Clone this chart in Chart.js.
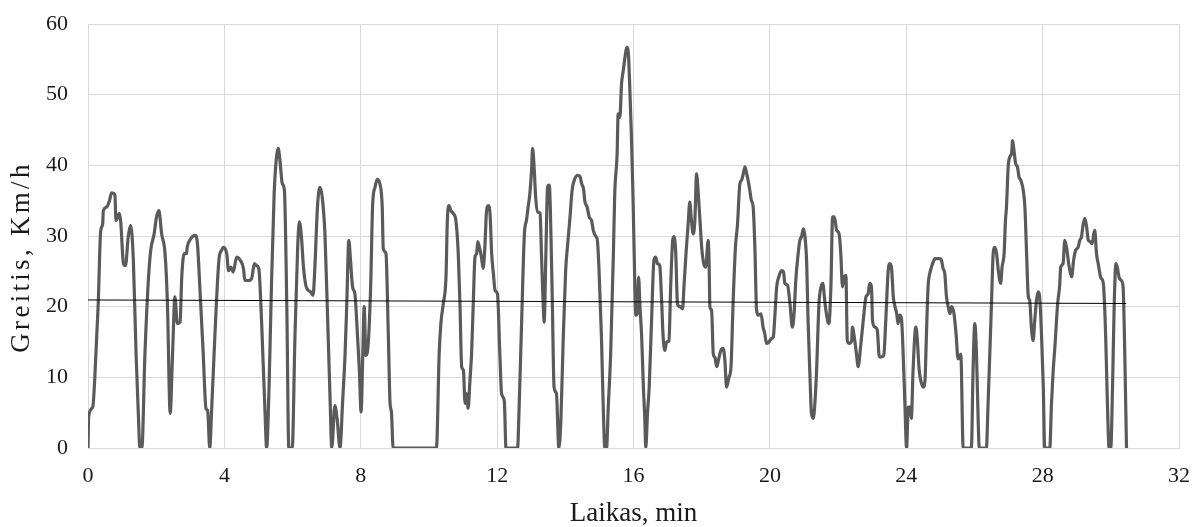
<!DOCTYPE html>
<html lang="lt">
<head>
  <meta charset="UTF-8">
  <title>Greitis laike</title>
  <script src="https://cdn.jsdelivr.net/npm/chart.js"></script>
  <style>
    body {
      margin: 0;
      background: #fff;
    }
    canvas {
      display: block;
    }
  </style>
</head>
<body>

  <canvas id="chart" width="1194" height="527"></canvas>

  <script>
    // laikas, min
    const timeMin = [
      0.00, 0.02, 0.14, 0.20, 0.30, 0.37, 0.43, 0.45, 0.55, 0.63, 0.69, 0.79, 0.82, 0.92, 0.96,
      1.04, 1.10, 1.18, 1.25, 1.33, 1.41, 1.48, 1.52, 1.58, 1.67, 1.77, 1.84, 1.94, 2.01, 2.08,
      2.16, 2.26, 2.33, 2.41, 2.48, 2.55, 2.62, 2.70, 2.75, 2.82, 2.89, 2.91, 3.01, 3.14, 3.21,
      3.28, 3.38, 3.46, 3.51, 3.57, 3.63, 3.72, 3.84, 3.92, 3.97, 4.07, 4.12, 4.19, 4.26, 4.36,
      4.46, 4.56, 4.60, 4.70, 4.80, 4.88, 4.95, 5.01, 5.09, 5.19, 5.24, 5.31, 5.38, 5.46, 5.53,
      5.58, 5.63, 5.70, 5.76, 5.83, 5.89, 5.99, 6.07, 6.15, 6.20, 6.26, 6.32, 6.39, 6.46, 6.53,
      6.60, 6.65, 6.73, 6.80, 6.87, 6.95, 7.03, 7.10, 7.15, 7.24, 7.31, 7.39, 7.47, 7.54, 7.59,
      7.65, 7.70, 7.76, 7.83, 7.88, 7.96, 8.01, 8.06, 8.10, 8.15, 8.22, 8.29, 8.35, 8.42, 8.48,
      8.56, 8.63, 8.66, 8.74, 8.81, 8.86, 8.90, 8.95, 10.22, 10.30, 10.35, 10.42, 10.50, 10.54, 10.59,
      10.64, 10.71, 10.79, 10.86, 10.91, 10.96, 11.01, 11.06, 11.10, 11.15, 11.20, 11.25, 11.30, 11.35, 11.40,
      11.43, 11.50, 11.54, 11.59, 11.64, 11.69, 11.74, 11.79, 11.84, 11.89, 11.94, 12.01, 12.08, 12.13, 12.21,
      12.26, 12.60, 12.64, 12.72, 12.80, 12.86, 12.91, 12.96, 13.01, 13.04, 13.09, 13.13, 13.19, 13.26, 13.30,
      13.35, 13.38, 13.43, 13.48, 13.53, 13.58, 13.62, 13.67, 13.74, 13.81, 13.87, 13.94, 14.01, 14.07, 14.13,
      14.20, 14.28, 14.36, 14.43, 14.48, 14.54, 14.57, 14.64, 14.70, 14.77, 14.82, 14.90, 14.94, 14.99, 15.06,
      15.11, 15.16, 15.21, 15.26, 15.33, 15.41, 15.45, 15.52, 15.55, 15.60, 15.65, 15.70, 15.75, 15.80, 15.85,
      15.89, 15.94, 15.99, 16.04, 16.07, 16.11, 16.15, 16.19, 16.24, 16.29, 16.33, 16.36, 16.41, 16.46, 16.53,
      16.60, 16.65, 16.70, 16.77, 16.82, 16.87, 16.92, 16.97, 17.04, 17.09, 17.15, 17.19, 17.24, 17.29, 17.36,
      17.44, 17.48, 17.54, 17.61, 17.65, 17.70, 17.75, 17.80, 17.85, 17.90, 17.95, 18.00, 18.06, 18.12, 18.19,
      18.22, 18.24, 18.29, 18.34, 18.39, 18.44, 18.49, 18.56, 18.63, 18.68, 18.73, 18.80, 18.86, 18.92, 18.99,
      19.05, 19.12, 19.17, 19.22, 19.27, 19.32, 19.36, 19.41, 19.46, 19.51, 19.56, 19.61, 19.66, 19.74, 19.80,
      19.85, 19.90, 19.97, 20.05, 20.10, 20.15, 20.20, 20.26, 20.34, 20.40, 20.44, 20.52, 20.59, 20.66, 20.71,
      20.76, 20.83, 20.88, 20.93, 20.98, 21.03, 21.08, 21.12, 21.17, 21.22, 21.27, 21.32, 21.37, 21.44, 21.50,
      21.56, 21.59, 21.63, 21.69, 21.73, 21.79, 21.84, 21.89, 21.96, 22.03, 22.08, 22.13, 22.17, 22.23, 22.27,
      22.33, 22.40, 22.42, 22.49, 22.54, 22.59, 22.66, 22.74, 22.82, 22.88, 22.93, 22.98, 23.01, 23.08, 23.15,
      23.21, 23.28, 23.34, 23.40, 23.47, 23.52, 23.57, 23.62, 23.67, 23.72, 23.76, 23.81, 23.86, 23.91, 23.96,
      24.01, 24.06, 24.11, 24.15, 24.20, 24.28, 24.32, 24.38, 24.45, 24.50, 24.55, 24.59, 24.64, 24.69, 24.74,
      24.79, 24.84, 24.89, 24.97, 25.03, 25.08, 25.13, 25.18, 25.23, 25.28, 25.33, 25.40, 25.46, 25.52, 25.60,
      25.67, 25.91, 25.96, 26.01, 26.06, 26.11, 26.14, 26.35, 26.40, 26.45, 26.50, 26.55, 26.60, 26.65, 26.70,
      26.77, 26.81, 26.87, 26.91, 26.94, 26.99, 27.04, 27.09, 27.12, 27.16, 27.21, 27.26, 27.31, 27.36, 27.43,
      27.48, 27.53, 27.58, 27.62, 27.67, 27.72, 27.77, 27.82, 27.87, 27.92, 27.97, 28.02, 28.06, 28.21, 28.26,
      28.31, 28.36, 28.44, 28.50, 28.53, 28.60, 28.65, 28.70, 28.78, 28.85, 28.91, 28.97, 29.04, 29.09, 29.14,
      29.19, 29.24, 29.29, 29.34, 29.40, 29.45, 29.50, 29.53, 29.58, 29.63, 29.70, 29.76, 29.79, 29.85, 29.90,
      29.95, 30.00, 30.05, 30.10, 30.15, 30.19, 30.24, 30.31, 30.36, 30.41, 30.46
    ];

    // greitis, km/h
    const speedKmh = [
      0, 4.5, 5.8, 10, 20.4, 30.6, 31.7, 33.6, 34.1, 35, 36.1, 35.8, 32.2, 33.2, 32,
      26.1, 25.8, 29.9, 31.5, 26.6, 13.3, 4.4, 0, 0, 13.3, 23.7, 28, 30.3, 32.7, 33.6,
      30.3, 27.5, 20.4, 4.9, 13.3, 21.4, 17.6, 17.8, 24.2, 27.5, 27.5, 28.4, 29.6, 30.1, 28.9,
      22.8, 13.3, 5.6, 5.3, 0, 5.8, 15.7, 26.6, 28, 28.4, 27.5, 25.1, 25.6, 24.9, 27,
      26.6, 25.4, 23.7, 23.7, 24, 26.1, 25.8, 25.4, 18.1, 5.3, 0, 8.6, 22.8, 36, 41.2,
      42.4, 40.7, 37.4, 36.5, 20.4, 0, 0, 15.7, 28.4, 32, 29.9, 25.6, 23, 22.3, 22.1,
      21.6, 25.1, 34.1, 36.9, 35.5, 30.3, 18.1, 7, 0, 6, 4, 0, 6.7, 13.3, 20.4,
      29.4, 26.6, 22.8, 21.8, 18.1, 11, 5.1, 13.3, 20, 13.1, 14.8, 22.8, 34.6, 36.9, 38,
      37.4, 34.1, 28.2, 27.5, 15.7, 6.3, 5.1, 0, 0, 13.3, 17.6, 20.4, 24.2, 32.2, 34.3,
      33.6, 33.2, 32.2, 27.5, 20.4, 11.5, 11, 6.3, 7.7, 5.6, 9.3, 13.3, 20.4, 27, 27.5,
      29.2, 28, 27, 25.4, 28.4, 33.6, 34.3, 33.3, 27.5, 24.7, 22.3, 21.8, 13.3, 7.7, 6.7,
      0, 0, 4.9, 18.1, 30.3, 32.2, 34.1, 36, 39.3, 42.4, 39.3, 35.5, 33.4, 33.2, 27.5,
      20.4, 17.8, 27.5, 36.9, 37.2, 29.9, 20.4, 8.6, 7.7, 0, 3.9, 15.7, 25.1, 28.9, 32.2,
      36.5, 38.1, 38.6, 38.4, 37.4, 36.5, 35, 34.1, 32.7, 32.2, 30.8, 29.9, 29.4, 25.1, 15.7,
      6.3, 0, 0, 5.8, 13.3, 27.5, 36, 41.7, 47.3, 46.8, 51.6, 53.4, 55.3, 56.7, 55.8,
      51.1, 44, 34.6, 22.8, 18.8, 19, 24.2, 20, 15.7, 8.6, 4.4, 0, 4.9, 8.6, 18.1,
      26.6, 27, 26.1, 25.8, 21.4, 15.7, 13.8, 15, 15.2, 22.8, 29.4, 29.9, 27.5, 20.4, 20,
      19.7, 22.8, 27.5, 32.2, 34.8, 32.2, 30.3, 32.2, 38.8, 36, 32.2, 28.4, 26.1, 25.6, 29.4,
      25.6, 20, 19.5, 13.3, 12.8, 11.5, 12.4, 13.8, 14.1, 12.4, 8.6, 10, 11.5, 20.4, 28.4,
      31.6, 37.4, 37.9, 38.8, 39.8, 38.8, 37.9, 36.5, 35, 34.1, 28.4, 19.5, 18.8, 19, 17.1,
      16.2, 14.8, 15, 15.5, 15.7, 19, 22.8, 24.2, 25.1, 24.9, 23.3, 23, 20.4, 17.1, 19,
      23.7, 27.5, 29.4, 29.9, 31, 29.9, 26.1, 18.1, 11, 4.9, 4.2, 6.3, 11, 20.4, 22.8,
      23.3, 21.8, 20, 18.1, 17.6, 22.8, 32.7, 32.7, 30.8, 30.3, 27.5, 22.8, 24.2, 24.4, 15.2,
      14.8, 15.2, 17.1, 15.2, 13.3, 11.5, 14.3, 18.1, 21.4, 21.8, 23.3, 22.8, 18.1, 17.1, 16.7,
      12.9, 12.9, 13.1, 18.1, 25.1, 26.1, 25.4, 21.4, 20, 19, 17.6, 18.8, 18.3, 13.3, 6.3,
      0, 5.8, 5.8, 4.2, 11, 17.1, 15.7, 11, 9.1, 8.6, 9.6, 15.7, 22.8, 24.7, 25.6,
      26.3, 26.8, 26.8, 26.8, 26.6, 25.4, 24.7, 21.4, 20, 19, 20, 19, 16.2, 12.6, 13.3,
      0, 0, 11, 17.6, 13.3, 3.9, 0, 0, 6.3, 13.3, 20.4, 27.5, 28.4, 27.5, 25.1,
      23.3, 25.6, 27.5, 32.2, 34.1, 39.8, 41.2, 41.7, 43.5, 42.1, 40.2, 39.8, 38.3, 37.9, 36.5,
      34.1, 27.5, 21.4, 20.9, 17.1, 15.2, 18.1, 20.9, 22.1, 20.9, 15.7, 8.6, 0, 0, 6.3,
      11, 14.3, 20.4, 23, 25.6, 26.1, 29.4, 28.4, 25.6, 24.2, 26.6, 28, 28.4, 29.4, 29.9,
      31.7, 32.5, 31.3, 29.4, 29.2, 28.9, 30.3, 30.8, 27.5, 26.1, 24.2, 23.7, 22.8, 15.7, 6.3,
      0, 0, 8.6, 20.4, 26.1, 25.6, 24.2, 23.7, 22.8, 13.3, 0
    ];

    // tiesinė tendencija
    const trendX = [0, 30.45];
    const trendY = [20.95, 20.45];

    const yTitle = 'Greitis, Km/h';
    const xTitle = 'Laikas, min';

    const serif = "'Liberation Serif', 'Times New Roman', serif";
    const gridGray = '#d9d9d9';
    const textColor = '#1a1a1a';

    const speedPoints = timeMin.map((t, i) => ({ x: t, y: speedKmh[i] }));
    const trendPoints = trendX.map((t, i) => ({ x: t, y: trendY[i] }));

    // y ašies pavadinimas, ištemptas kaip originale
    const yTitlePlugin = {
      id: 'yTitle',
      afterDraw(chart) {
        const { ctx, chartArea } = chart;
        ctx.save();
        ctx.translate(22, (chartArea.top + chartArea.bottom) / 2 + 21);
        ctx.rotate(-Math.PI / 2);
        ctx.font = '27px ' + serif;
        ctx.letterSpacing = '3.3px';
        ctx.fillStyle = textColor;
        ctx.textAlign = 'center';
        ctx.textBaseline = 'middle';
        ctx.fillText(yTitle, 0, 0);
        ctx.restore();
      }
    };

    const ctx = document.getElementById('chart').getContext('2d');
    new Chart(ctx, {
      type: 'line',
      data: {
        datasets: [
          {
            label: 'Greitis',
            data: speedPoints,
            borderColor: '#5a5a5a',
            borderWidth: 3.2,
            borderJoinStyle: 'round',
            borderCapStyle: 'round',
            pointRadius: 0,
            pointHoverRadius: 0,
            cubicInterpolationMode: 'monotone',
            fill: false,
            order: 1
          },
          {
            label: 'Tendencija',
            data: trendPoints,
            borderColor: '#000',
            borderWidth: 1,
            pointRadius: 0,
            pointHoverRadius: 0,
            fill: false,
            order: 0
          }
        ]
      },
      options: {
        responsive: false,
        animation: false,
        layout: {
          autoPadding: false,
          padding: { left: 0, right: 15, top: 24, bottom: 0 }
        },
        plugins: {
          legend: { display: false },
          tooltip: { enabled: false }
        },
        scales: {
          x: {
            type: 'linear',
            min: 0,
            max: 32,
            afterFit: s => {
              s.height = 79;
              s.paddingLeft = 0;
              s.paddingRight = 0;
            },
            ticks: {
              stepSize: 4,
              padding: 15,
              color: textColor,
              font: { family: serif, size: 22 }
            },
            grid: { color: gridGray, drawTicks: false },
            border: { color: gridGray },
            title: {
              display: true,
              text: xTitle,
              color: textColor,
              font: { family: serif, size: 27, lineHeight: 1.0 },
              padding: { top: 0, bottom: 0 }
            }
          },
          y: {
            min: 0,
            max: 60,
            afterFit: s => {
              s.width = 88;
              s.paddingTop = 0;
              s.paddingBottom = 0;
            },
            ticks: {
              stepSize: 10,
              padding: 20,
              color: textColor,
              font: { family: serif, size: 22 }
            },
            grid: { color: gridGray, drawTicks: false },
            border: { color: gridGray }
          }
        }
      },
      plugins: [yTitlePlugin]
    });
  </script>

</body>
</html>
